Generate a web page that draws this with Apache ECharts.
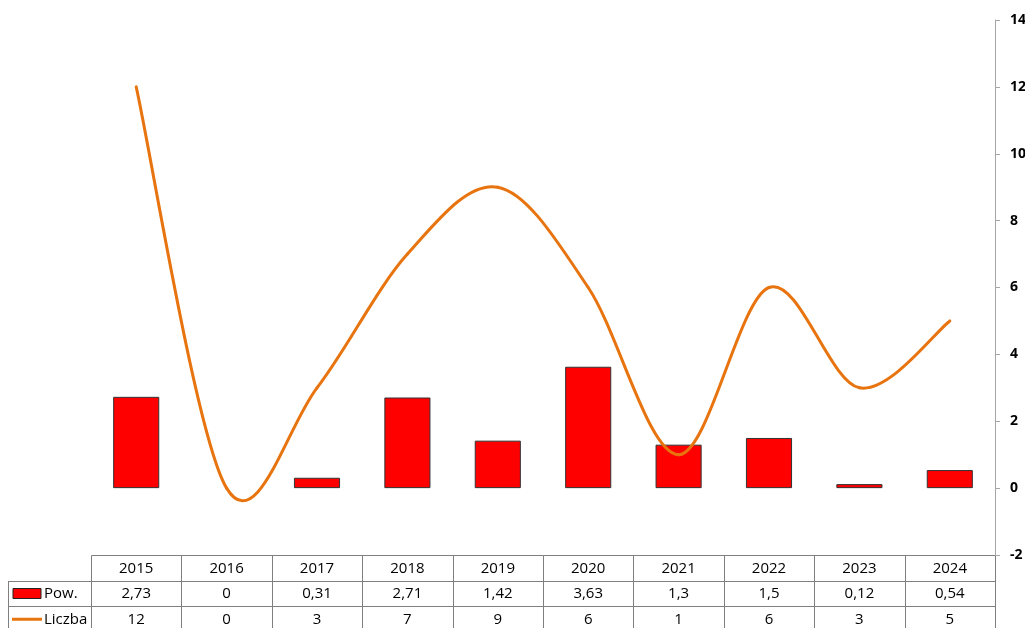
<!DOCTYPE html>
<html>
<head>
<meta charset="utf-8">
<script src="https://cdn.jsdelivr.net/npm/echarts@6/dist/echarts.min.js"></script>
<style>
html,body{margin:0;padding:0;background:#fff;}
#main{width:1025px;height:628px;}
</style>
</head>
<body>
<div id="main"></div>
<script>
var categories = ['2015','2016','2017','2018','2019','2020','2021','2022','2023','2024'];
var powValues = [2.73, 0, 0.31, 2.71, 1.42, 3.63, 1.3, 1.5, 0.12, 0.54];
var liczbaValues = [12, 0, 3, 7, 9, 6, 1, 6, 3, 5];
var seriesNames = ['Pow.', 'Liczba'];
var yMin = -2, yMax = 14, yInterval = 2;

var RED = '#ff0000';
var ORANGE = '#e8740f';
var GRID_LEFT = 91, GRID_RIGHT = 30, GRID_TOP = 20, GRID_BOTTOM = 73;
var FONT = '"Open Sans", "Liberation Sans", sans-serif';

var chart = echarts.init(document.getElementById('main'), null, {renderer: 'canvas'});

function fmt(v){ return String(v).replace('.', ','); }

// Excel-like smoothed line (Catmull-Rom with 1/6 tension), drawn segment by segment
function renderSmoothSegment(params, api) {
  var i = params.dataIndex;
  var n = liczbaValues.length;
  if (i >= n - 1) return null;
  function pt(k) {
    k = Math.max(0, Math.min(n - 1, k));
    return api.coord([k, liczbaValues[k]]);
  }
  var p0 = pt(i - 1), p1 = pt(i), p2 = pt(i + 1), p3 = pt(i + 2);
  var t = 1 / 6;
  return {
    type: 'bezierCurve',
    shape: {
      x1: p1[0], y1: p1[1],
      cpx1: p1[0] + (p2[0] - p0[0]) * t, cpy1: p1[1] + (p2[1] - p0[1]) * t,
      cpx2: p2[0] - (p3[0] - p1[0]) * t, cpy2: p2[1] - (p3[1] - p1[1]) * t,
      x2: p2[0], y2: p2[1]
    },
    style: {stroke: ORANGE, lineWidth: 3, fill: null, lineCap: 'round'}
  };
}

var option = {
  animation: false,
  backgroundColor: '#ffffff',
  grid: {left: GRID_LEFT, right: GRID_RIGHT, top: GRID_TOP, bottom: GRID_BOTTOM, containLabel: false, outerBoundsMode: 'none'},
  xAxis: {
    type: 'category',
    data: categories,
    axisLine: {show: false},
    axisTick: {show: false},
    axisLabel: {show: false},
    splitLine: {show: false}
  },
  yAxis: {
    type: 'value',
    position: 'right',
    min: yMin, max: yMax, interval: yInterval,
    axisLine: {show: true, lineStyle: {color: '#a6a6a6', width: 1}},
    axisTick: {show: true, inside: false, length: 5, lineStyle: {color: '#a6a6a6'}},
    axisLabel: {show: true, margin: 15, color: '#000', fontWeight: 'bold', fontSize: 14, fontFamily: FONT},
    splitLine: {show: false}
  },
  series: [
    {
      name: seriesNames[0],
      type: 'bar',
      data: powValues.map(function (v) {
        return v === 0 ? {value: v, itemStyle: {borderWidth: 0}} : v;
      }),
      barWidth: '51%',
      itemStyle: {color: RED, borderColor: '#333333', borderWidth: 1},
      z: 2
    },
    {
      name: seriesNames[1],
      type: 'custom',
      data: liczbaValues.map(function (v, k) { return [k, v]; }),
      encode: {x: 0, y: 1},
      renderItem: renderSmoothSegment,
      clip: false,
      z: 3
    }
  ]
};
chart.setOption(option);

// Build data table beneath the plot from arrays
function buildTable(){
  var els = [];
  var lineColor = '#7f7f7f';
  var c0 = chart.convertToPixel({xAxisIndex: 0}, categories[0]);
  var c1 = chart.convertToPixel({xAxisIndex: 0}, categories[1]);
  var band = c1 - c0;
  var top = Math.round(chart.convertToPixel({yAxisIndex: 0}, yMin)) + 0.5;
  var rowH = 25.5;
  var left = Math.round(c0 - band / 2) + 0.5;
  var right = Math.round(c0 + band * (categories.length - 0.5)) + 0.5;
  var legendLeft = 8.5;
  var bottom = top + rowH * 3;
  var tf = '15px ' + FONT;
  function hline(x1, y, x2) {
    y = Math.round(y) + 0.5;
    els.push({type: 'line', shape: {x1: x1, y1: y, x2: x2, y2: y}, style: {stroke: lineColor, lineWidth: 1}});
  }
  function vline(x, y1, y2) {
    x = Math.round(x) + 0.5;
    els.push({type: 'line', shape: {x1: x, y1: y1, x2: x, y2: y2}, style: {stroke: lineColor, lineWidth: 1}});
  }
  hline(left, top - 0.5, right);
  hline(legendLeft, top + rowH - 0.5, right);
  hline(legendLeft, top + rowH * 2 - 0.5, right);
  hline(legendLeft, bottom - 0.5, right);
  vline(legendLeft - 0.5, top + rowH, bottom);
  for (var i = 0; i <= categories.length; i++) {
    vline(c0 - band / 2 + band * i, top, bottom);
  }
  for (var j = 0; j < categories.length; j++) {
    var cx = chart.convertToPixel({xAxisIndex: 0}, categories[j]);
    var rows = [categories[j], fmt(powValues[j]), fmt(liczbaValues[j])];
    for (var r = 0; r < 3; r++) {
      els.push({type: 'text', x: cx, y: top + rowH * r + rowH / 2,
        style: {text: rows[r], fill: '#000', font: tf, align: 'center', verticalAlign: 'middle'}});
    }
  }
  var y1 = top + rowH * 1.5;
  var y2 = top + rowH * 2.5;
  els.push({type: 'rect', shape: {x: 13, y: Math.round(y1) - 5.5, width: 28, height: 10},
    style: {fill: RED, stroke: '#222', lineWidth: 1}});
  els.push({type: 'text', x: 44, y: y1, style: {text: seriesNames[0], fill: '#000', font: tf, align: 'left', verticalAlign: 'middle'}});
  els.push({type: 'line', shape: {x1: 12, y1: y2, x2: 42, y2: y2}, style: {stroke: ORANGE, lineWidth: 3}});
  els.push({type: 'text', x: 44, y: y2, style: {text: seriesNames[1], fill: '#000', font: tf, align: 'left', verticalAlign: 'middle'}});
  chart.setOption({graphic: {elements: els}});
}
buildTable();
</script>
</body>
</html>
